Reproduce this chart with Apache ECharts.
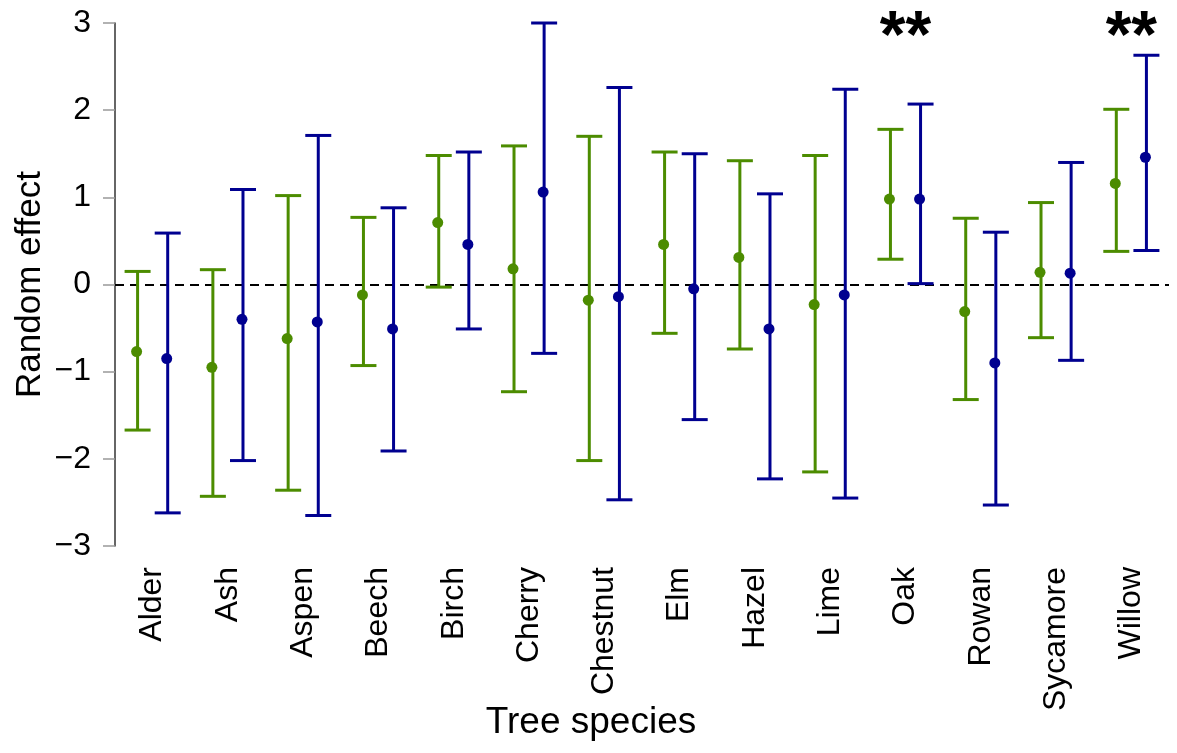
<!DOCTYPE html>
<html>
<head>
<meta charset="utf-8">
<script src="https://cdn.jsdelivr.net/npm/echarts@6/dist/echarts.min.js"></script>
<style>
  html, body { margin: 0; padding: 0; background: #fff; }
  #chart { width: 1177px; height: 753px; }
</style>
</head>
<body>
<div id="chart"></div>
<script>
// tree species on the x axis
const species = ['Alder', 'Ash', 'Aspen', 'Beech', 'Birch', 'Cherry', 'Chestnut', 'Elm', 'Hazel', 'Lime', 'Oak', 'Rowan', 'Sycamore', 'Willow']
// green model: estimate and interval
const greenMean = [-0.77, -0.95, -0.62, -0.12, 0.71, 0.18, -0.18, 0.46, 0.31, -0.23, 0.98, -0.31, 0.14, 1.16]
const greenLow = [-1.67, -2.43, -2.36, -0.93, -0.03, -1.23, -2.02, -0.56, -0.74, -2.15, 0.29, -1.32, -0.61, 0.38]
const greenHigh = [0.15, 0.17, 1.02, 0.77, 1.48, 1.59, 1.70, 1.52, 1.42, 1.48, 1.78, 0.76, 0.94, 2.01]
// blue model: estimate and interval
const blueMean = [-0.85, -0.40, -0.43, -0.51, 0.46, 1.06, -0.14, -0.05, -0.51, -0.12, 0.98, -0.90, 0.13, 1.46]
const blueLow = [-2.62, -2.02, -2.65, -1.91, -0.51, -0.79, -2.47, -1.55, -2.23, -2.45, 0.01, -2.53, -0.87, 0.39]
const blueHigh = [0.59, 1.09, 1.71, 0.88, 1.52, 3.00, 2.26, 1.50, 1.04, 2.24, 2.07, 0.60, 1.40, 2.63]
// significance marks
const starred = ['Oak', 'Willow']
const starLevel = 2.82
const yTicks = [-3, -2, -1, 0, 1, 2, 3]

const FONT = "'Liberation Sans', Arial, sans-serif"

function errorBar (color, shift) {
  return function (params, api) {
    const idx = api.value(0)
    const w = api.size([1, 0])[0]
    const dx = w * shift
    const mid = api.coord([idx, api.value(1)])
    const lo = api.coord([idx, api.value(2)])
    const hi = api.coord([idx, api.value(3)])
    const x = mid[0] + dx
    const half = 13
    const st = { stroke: color, lineWidth: 3 }
    return {
      type: 'group',
      children: [
        { type: 'line', shape: { x1: x, y1: lo[1], x2: x, y2: hi[1] }, style: st },
        { type: 'line', shape: { x1: x - half, y1: hi[1], x2: x + half, y2: hi[1] }, style: st },
        { type: 'line', shape: { x1: x - half, y1: lo[1], x2: x + half, y2: lo[1] }, style: st },
        { type: 'circle', shape: { cx: x - 1, cy: mid[1], r: 5.5 }, style: { fill: color } }
      ]
    }
  }
}

// "**" above the significant species
function starMark (params, api) {
  const p = api.coord([api.value(0), api.value(1)])
  return {
    type: 'text',
    x: p[0],
    y: p[1],
    style: {
      text: '**',
      fill: '#000',
      font: 'bold 66px ' + FONT,
      align: 'center',
      verticalAlign: 'middle'
    }
  }
}

const greenData = species.map((s, i) => [i, greenMean[i], greenLow[i], greenHigh[i]])
const blueData = species.map((s, i) => [i, blueMean[i], blueLow[i], blueHigh[i]])
const starData = starred.map(s => [species.indexOf(s), starLevel])

const chart = echarts.init(document.getElementById('chart'))
chart.setOption({
  animation: false,
  grid: { left: 115, right: 8, top: 23, bottom: 207, containLabel: false, outerBoundsMode: 'none' },
  xAxis: {
    type: 'category',
    data: species,
    name: 'Tree species',
    nameLocation: 'middle',
    nameGap: 158,
    nameMoveOverlap: false,
    nameTextStyle: { fontFamily: FONT, fontSize: 37, color: '#000', padding: [0, 102, 0, 0] },
    axisLine: { show: false },
    axisTick: { show: false },
    axisLabel: { rotate: 90, margin: 21, fontFamily: FONT, fontSize: 32, color: '#000', interval: 0 },
    splitLine: { show: false }
  },
  yAxis: {
    type: 'value',
    min: -3,
    max: 3,
    interval: 1,
    name: 'Random effect',
    nameLocation: 'middle',
    nameGap: 67,
    nameMoveOverlap: false,
    nameTextStyle: { fontFamily: FONT, fontSize: 35, color: '#000' },
    axisLine: { show: true, lineStyle: { color: '#333', width: 1.5 } },
    axisTick: { show: true, length: 12, lineStyle: { color: '#999', width: 1.5 } },
    axisLabel: {
      margin: 24,
      fontFamily: FONT,
      fontSize: 32,
      color: '#000',
      formatter: v => yTicks.includes(v) ? String(v).replace('-', '\u2212') : ''
    },
    splitLine: { show: false }
  },
  series: [
    {
      type: 'custom',
      name: 'green',
      renderItem: errorBar('#4C8C00', -0.2),
      encode: { x: 0, y: [1, 2, 3] },
      clip: false,
      data: greenData,
      z: 3,
      markLine: {
        silent: true,
        symbol: 'none',
        label: { show: false },
        lineStyle: { color: '#000', type: [9, 6], width: 2 },
        data: [{ yAxis: 0 }],
        z: 1
      }
    },
    {
      type: 'custom',
      name: 'blue',
      renderItem: errorBar('#000090', 0.2),
      encode: { x: 0, y: [1, 2, 3] },
      clip: false,
      data: blueData,
      z: 3
    },
    {
      type: 'custom',
      name: 'stars',
      renderItem: starMark,
      encode: { x: 0, y: 1 },
      clip: false,
      data: starData
    }
  ]
})
</script>
</body>
</html>
